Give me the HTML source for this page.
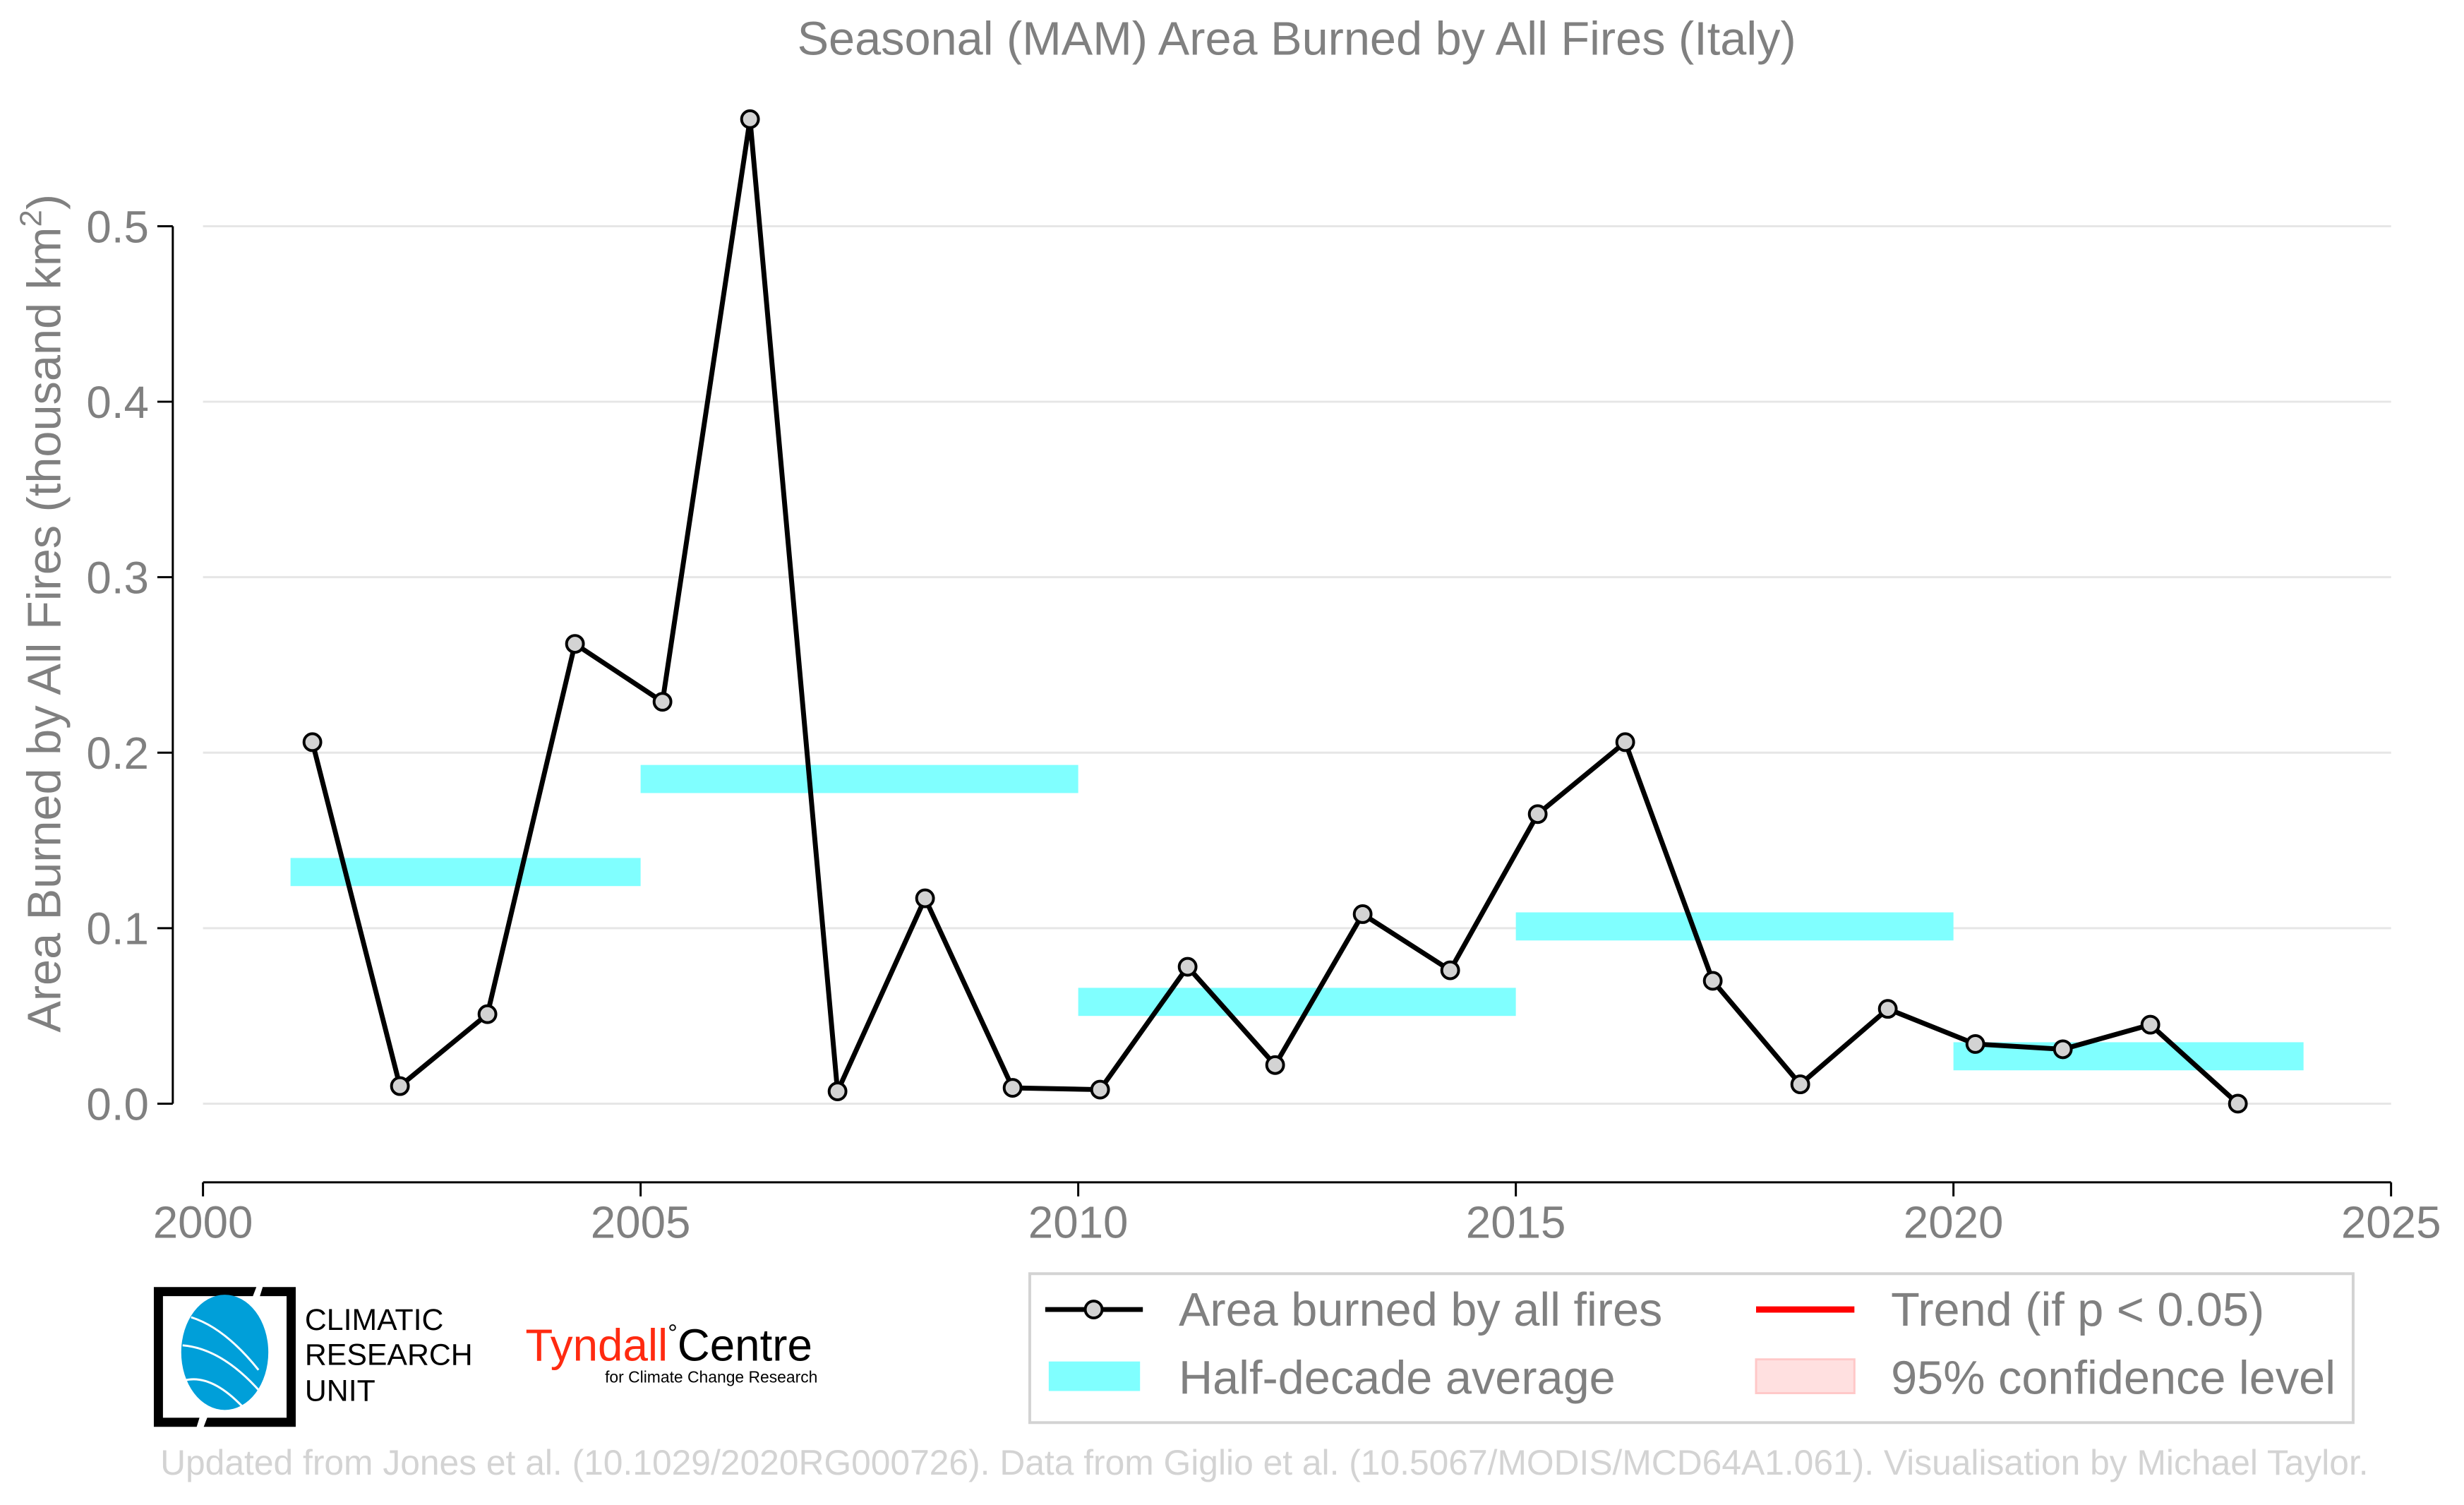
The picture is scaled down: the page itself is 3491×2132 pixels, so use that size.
<!DOCTYPE html>
<html><head><meta charset="utf-8"><style>
html,body{margin:0;padding:0;background:#fff}
svg{display:block;font-family:"Liberation Sans",sans-serif}
</style></head><body>
<svg id="chart" width="3491" height="2132" viewBox="0 0 3491 2132">
<g transform="scale(0.9952)">
<text x="1846" y="78" text-anchor="middle" font-size="67" fill="#808080">Seasonal (MAM) Area Burned by All Fires (Italy)</text>
<g id="grid"></g>
<g id="yaxis"></g>
<g id="xaxis"></g>
<text transform="translate(86,873) rotate(-90)" text-anchor="middle" font-size="67" fill="#808080">Area Burned by All Fires (thousand km<tspan font-size="44" dy="-27">2</tspan><tspan dy="27">)</tspan></text>
<g id="bars"></g>
<g id="series"></g>

<g>
<rect x="1466" y="1813" width="1884" height="212" fill="#fff" stroke="#d3d3d3" stroke-width="4"/>
<g>
<line x1="1488" y1="1864" x2="1627" y2="1864" stroke="#000" stroke-width="7"/>
<circle cx="1557" cy="1864" r="12" fill="#d3d3d3" stroke="#000" stroke-width="4"/>
<text x="1678" y="1887" font-size="67" fill="#808080">Area burned by all fires</text></g>
<g>
<rect x="1493" y="1938" width="130" height="42" fill="#80ffff"/>
<text x="1678" y="1984" font-size="67" fill="#808080">Half-decade average</text></g>
<g>
<line x1="2500" y1="1864" x2="2640" y2="1864" stroke="#f00" stroke-width="9"/>
<text x="2692" y="1887" font-size="67" fill="#808080">Trend (if p &lt; 0.05)</text></g>
<g>
<rect x="2500" y="1935" width="140" height="48" fill="#ffe0e0" stroke="#ffc8c8" stroke-width="3"/>
<text x="2692" y="1984" font-size="67" fill="#808080">95% confidence level</text></g>
</g>

<g>
<path d="M219 1832 H365 L360 1845 H232 V2018 H284 L280 2031 H219 Z" fill="#000"/>
<path d="M374 1832 H421 V2031 H290 L295 2018 H408 V1845 H370 Z" fill="#000"/>
<ellipse cx="320" cy="1925" rx="62" ry="82" fill="#009fd9"/>
<path d="M272 1875 Q320 1890 368 1950 M260 1915 Q320 1920 378 1990 M262 1965 Q300 1955 345 2002" stroke="#fff" stroke-width="3" fill="none"/>
<text x="434" y="1893" font-size="43" fill="#000">CLIMATIC</text>
<text x="434" y="1943" font-size="43" fill="#000">RESEARCH</text>
<text x="434" y="1994" font-size="43" fill="#000">UNIT</text>
</g>
<g>
<text x="748" y="1937" font-size="64" fill="#ff2a10">Tyndall<tspan fill="#000" font-size="34" dy="-28">°</tspan><tspan fill="#000" dy="28">Centre</tspan></text>
<text x="1164" y="1968" text-anchor="end" font-size="23" fill="#000">for Climate Change Research</text>
</g>
<text x="1800" y="2099" text-anchor="middle" font-size="50" fill="#d3d3d3">Updated from Jones et al. (10.1029/2020RG000726). Data from Giglio et al. (10.5067/MODIS/MCD64A1.061). Visualisation by Michael Taylor.</text>
</g>
</svg>
<script>
const years = [2001,2002,2003,2004,2005,2006,2007,2008,2009,2010,2011,2012,2013,2014,2015,2016,2017,2018,2019,2020,2021,2022,2023];
const burned = [0.206,0.010,0.051,0.262,0.229,0.561,0.007,0.117,0.009,0.008,0.078,0.022,0.108,0.076,0.165,0.206,0.070,0.011,0.054,0.034,0.031,0.045,0.000];
const avgStart = [2001,2005,2010,2015,2020];
const avgEnd = [2005,2010,2015,2020,2024];
const avgValue = [0.132,0.185,0.058,0.101,0.027];
const yTicks = [0,0.1,0.2,0.3,0.4,0.5];
const yTickLabels = ["0.0","0.1","0.2","0.3","0.4","0.5"];
const xTicks = [2000,2005,2010,2015,2020,2025];

const NS='http://www.w3.org/2000/svg';
const X0=289,X1=3404,Y0=1571,Y5=322;
const xs=v=>X0+(v-2000)/25*(X1-X0);
const ys=v=>Y0+(v/0.5)*(Y5-Y0);
function mk(t,a,p){const e=document.createElementNS(NS,t);for(const k in a)e.setAttribute(k,a[k]);p.appendChild(e);return e;}
const grid=document.getElementById('grid'),ya=document.getElementById('yaxis'),xa=document.getElementById('xaxis');
yTicks.forEach((t,i)=>{
  const g=mk('line',{x1:X0,x2:X1,y1:ys(t),y2:ys(t),stroke:'#e6e6e6','stroke-width':3},grid);
  
  
  const tk=mk('line',{x1:224,x2:246,y1:ys(t),y2:ys(t),stroke:'#000','stroke-width':3},ya);
  
  
  const l=mk('text',{x:212,y:ys(t)+23,'text-anchor':'end','font-size':64,fill:'#808080'},ya);
  l.textContent=yTickLabels[i];
  
  
});
const ysp=mk('line',{x1:246,x2:246,y1:ys(0),y2:ys(0.5),stroke:'#000','stroke-width':3},ya);


const xsp=mk('line',{x1:X0,x2:X1,y1:1683,y2:1683,stroke:'#000','stroke-width':3},xa);


xTicks.forEach(t=>{
  const tk=mk('line',{x1:xs(t),x2:xs(t),y1:1683,y2:1703,stroke:'#000','stroke-width':3},xa);
  
  
  const l=mk('text',{x:xs(t),y:1762,'text-anchor':'middle','font-size':64,fill:'#808080'},xa);
  l.textContent=t;
  
  
});
const bars=document.getElementById('bars');
avgValue.forEach((v,i)=>{
  const r=mk('rect',{x:xs(avgStart[i]),width:xs(avgEnd[i])-xs(avgStart[i]),y:ys(v)-20,height:40,fill:'#80ffff'},bars);
  
  
});
const ser=document.getElementById('series');
const pts=years.map((y,i)=>xs(y+0.25)+','+ys(burned[i])).join(' ');
const pl=mk('polyline',{points:pts,fill:'none',stroke:'#000','stroke-width':7,'stroke-linejoin':'round'},ser);


years.forEach((y,i)=>{
  const c=mk('circle',{cx:xs(y+0.25),cy:ys(burned[i]),r:12,fill:'#d3d3d3',stroke:'#000','stroke-width':4},ser);
  
  
});
</script>
</body></html>
